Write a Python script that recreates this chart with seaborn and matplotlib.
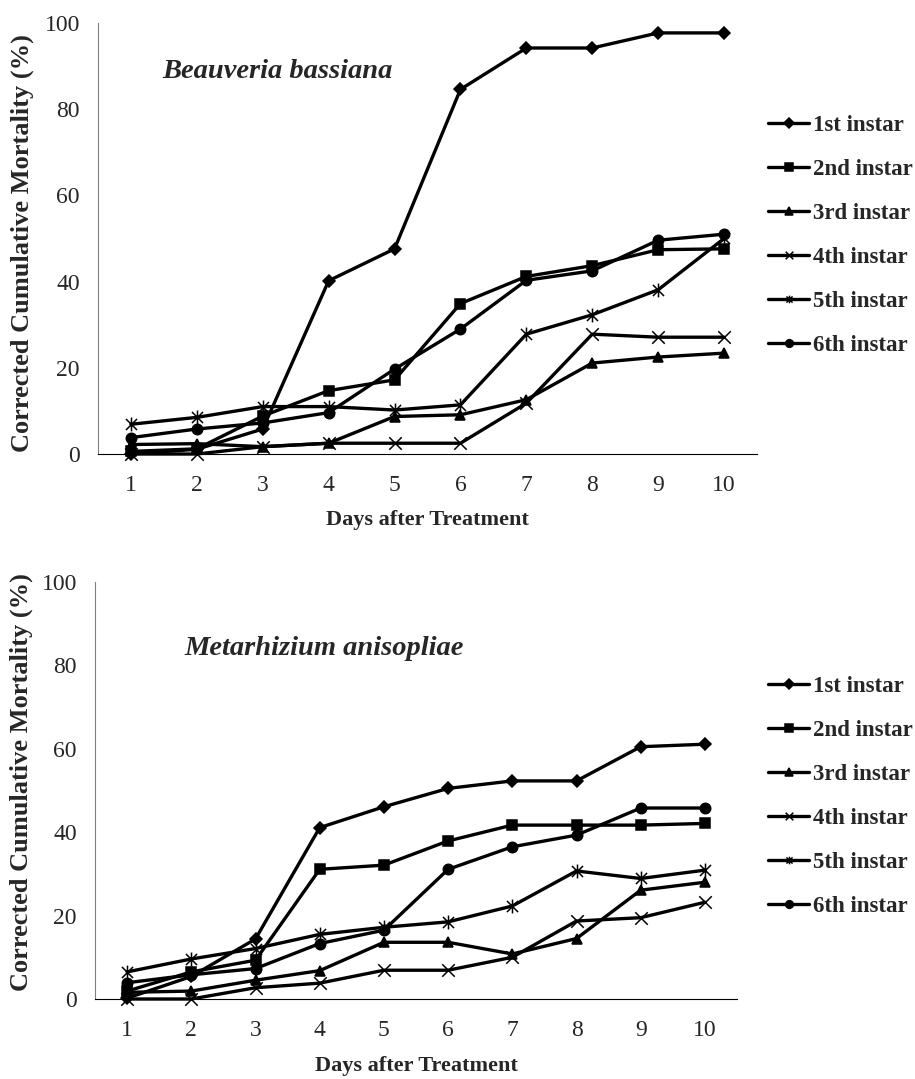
"""Corrected cumulative mortality of larval instars after fungal treatment."""

import matplotlib
matplotlib.use("Agg")
import matplotlib.pyplot as plt
from matplotlib.path import Path
import pandas as pd
import seaborn as sns

days = list(range(1, 11))
instars = ["1st instar", "2nd instar", "3rd instar", "4th instar", "5th instar", "6th instar"]

# Beauveria bassiana
bb_1st = [0.0, 1.1, 5.8, 40.2, 47.6, 84.6, 94.2, 94.2, 97.7, 97.7]
bb_2nd = [0.6, 1.2, 8.8, 14.7, 17.2, 34.9, 41.2, 43.7, 47.4, 47.6]
bb_3rd = [2.2, 2.4, 1.7, 2.5, 8.7, 9.1, 12.6, 21.1, 22.5, 23.4]
bb_4th = [0.0, 0.0, 1.7, 2.5, 2.5, 2.5, 11.8, 27.8, 27.1, 27.1]
bb_5th = [6.9, 8.5, 11.0, 11.0, 10.2, 11.4, 27.8, 32.3, 38.1, 50.0]
bb_6th = [3.8, 5.8, 7.2, 9.6, 19.7, 29.0, 40.3, 42.5, 49.6, 51.0]

# Metarhizium anisopliae
ma_1st = [0.2, 5.4, 14.4, 41.1, 46.1, 50.5, 52.3, 52.3, 60.5, 61.1]
ma_2nd = [1.9, 6.5, 9.3, 31.1, 32.1, 37.9, 41.7, 41.7, 41.7, 42.1]
ma_3rd = [1.6, 1.9, 4.5, 6.8, 13.6, 13.6, 10.8, 14.5, 26.1, 28.0]
ma_4th = [0.0, 0.0, 2.7, 3.8, 6.9, 6.9, 10.0, 18.7, 19.5, 23.2]
ma_5th = [6.5, 9.6, 12.1, 15.5, 17.2, 18.5, 22.3, 30.7, 28.9, 30.9]
ma_6th = [3.9, 5.8, 7.3, 13.3, 16.5, 31.1, 36.5, 39.3, 45.8, 45.8]

panels = [
    ("Beauveria bassiana", [bb_1st, bb_2nd, bb_3rd, bb_4th, bb_5th, bb_6th]),
    ("Metarhizium anisopliae", [ma_1st, ma_2nd, ma_3rd, ma_4th, ma_5th, ma_6th]),
]

x_marker = Path([(-1, -1), (1, 1), (-1, 1), (1, -1)],
                [Path.MOVETO, Path.LINETO, Path.MOVETO, Path.LINETO])
star_marker = Path([(-1, -1), (1, 1), (-1, 1), (1, -1), (0, -1.25), (0, 1.25)],
                   [Path.MOVETO, Path.LINETO, Path.MOVETO, Path.LINETO, Path.MOVETO, Path.LINETO])
markers = dict(zip(instars, ["D", "s", "^", x_marker, star_marker, "o"]))
marker_sizes = dict(zip(instars, [6, 6.5, 7.5, 9, 10, 7.5]))
palette = {k: "black" for k in instars}

sns.set_style("white")
plt.rcParams["font.family"] = ["Liberation Serif", "DejaVu Serif"]

fig = plt.figure(figsize=(9.15, 10.79), dpi=100)
W, H = 915, 1079
# axes boxes in pixels: left, right, top, bottom
boxes = [(98, 757, 23, 454), (95, 737, 582, 999)]
title_pos = [(0.097, 0.872), (0.139, 0.825)]
legend_top = [115, 676]
xlabel_y = [-0.13, -0.137]
ylabel_y = [0.49, 0.52]

for i, ((name, series), (l, r, t, b)) in enumerate(zip(panels, boxes)):
    ax = fig.add_axes([l / W, 1 - b / H, (r - l) / W, (b - t) / H])
    df = pd.concat(
        [pd.DataFrame({"day": days, "mortality": vals, "instar": inst})
         for inst, vals in zip(instars, series)],
        ignore_index=True,
    )
    sns.lineplot(
        data=df, x="day", y="mortality", hue="instar", style="instar",
        markers=markers, dashes=False, palette=palette, errorbar=None,
        linewidth=2.4, markeredgecolor="black", markeredgewidth=1.1,
        legend=False, ax=ax,
    )
    lines = ax.get_lines()[:len(instars)]
    for line, inst in zip(lines, instars):
        line.set_markersize(marker_sizes[inst])
        line.set_clip_on(False)

    ax.set_xlim(0.5, 10.5)
    ax.set_ylim(0, 100)
    ax.set_xticks(days)
    ax.set_xticks([10.5], minor=True)
    ax.set_yticks(range(0, 101, 20))
    sns.despine(ax=ax)
    ax.spines["left"].set_color("#808080")
    ax.spines["bottom"].set_color("black")
    ax.tick_params(axis="both", which="both", direction="out", length=8, width=1,
                   color="#808080", labelsize=17)
    ax.tick_params(axis="x", pad=7)
    ax.tick_params(axis="y", pad=5)

    ax.set_xlabel("Days after Treatment", fontsize=16, fontweight="bold")
    ax.set_ylabel("Corrected Cumulative Mortality (%)", fontsize=19, fontweight="bold")
    ax.xaxis.set_label_coords(0.5, xlabel_y[i])
    ax.yaxis.set_label_coords(-0.097, ylabel_y[i])

    ax.text(title_pos[i][0], title_pos[i][1], name, transform=ax.transAxes,
            fontsize=20.5, fontweight="bold", fontstyle="italic",
            va="baseline", ha="left")

    leg = ax.legend(
        lines, instars, loc="upper left",
        bbox_to_anchor=(768 / W, 1 - legend_top[i] / H),
        bbox_transform=fig.transFigure, frameon=False, borderpad=0, borderaxespad=0,
        handlelength=1.8, handletextpad=0.15, labelspacing=1.0,
        prop={"weight": "bold", "size": 16.5},
    )
    for h in leg.legend_handles:
        h.set_markersize(5.5)

fig.savefig("out.png", dpi=100)
